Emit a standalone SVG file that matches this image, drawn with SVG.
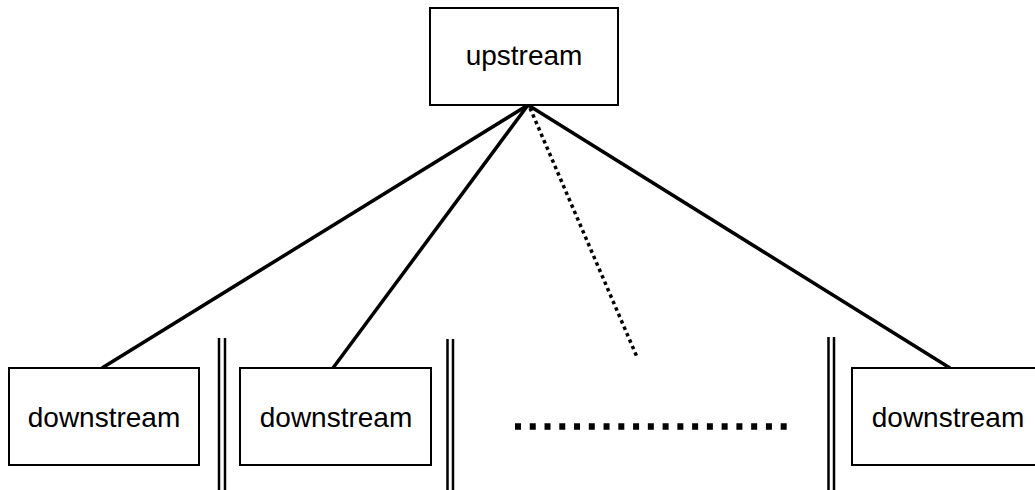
<svg xmlns="http://www.w3.org/2000/svg" width="1035" height="490" viewBox="0 0 1035 490">
<style>
.box{fill:#fff;stroke:#000;stroke-width:2}
.lbl{font-family:"Liberation Sans",Arial,sans-serif;font-size:28px;fill:#000;text-anchor:middle}
.edge{stroke:#000;stroke-width:3.5;fill:none}
.sep{stroke:#000;stroke-width:2.5;fill:none}
</style>
<rect width="1035" height="490" fill="#fff"/>
<g id="connectors">
<line class="edge" x1="528" y1="105" x2="102" y2="368"/>
<line class="edge" x1="528" y1="105" x2="333" y2="368"/>
<line class="edge" x1="528" y1="105" x2="950" y2="368"/>
<line class="edge" x1="530" y1="108" x2="637" y2="357" stroke-dasharray="3.5 3.5" stroke-width="3.5"/>
</g>
<g id="upstream"><rect class="box" x="430" y="8" width="188" height="97"/><text class="lbl" x="524" y="65">upstream</text></g>
<g id="downstream1"><rect class="box" x="9" y="368" width="190" height="97"/><text class="lbl" x="104" y="427">downstream</text></g>
<g id="downstream2"><rect class="box" x="240" y="368" width="191" height="97"/><text class="lbl" x="336" y="427">downstream</text></g>
<g id="downstream3"><rect class="box" x="852" y="368" width="192" height="97"/><text class="lbl" x="948" y="427">downstream</text></g>
<g id="separators">
<line class="sep" x1="219" y1="338" x2="219" y2="490"/>
<line class="sep" x1="225" y1="338" x2="225" y2="490"/>
<line class="sep" x1="447.5" y1="339" x2="447.5" y2="490"/>
<line class="sep" x1="453" y1="339" x2="453" y2="490"/>
<line class="sep" x1="828.5" y1="337" x2="828.5" y2="490"/>
<line class="sep" x1="834" y1="337" x2="834" y2="490"/>
</g>
<g id="ellipsis">
<line x1="515" y1="426.5" x2="787" y2="426.5" stroke="#000" stroke-width="6.5" stroke-dasharray="6 8.76"/>
</g>
</svg>
